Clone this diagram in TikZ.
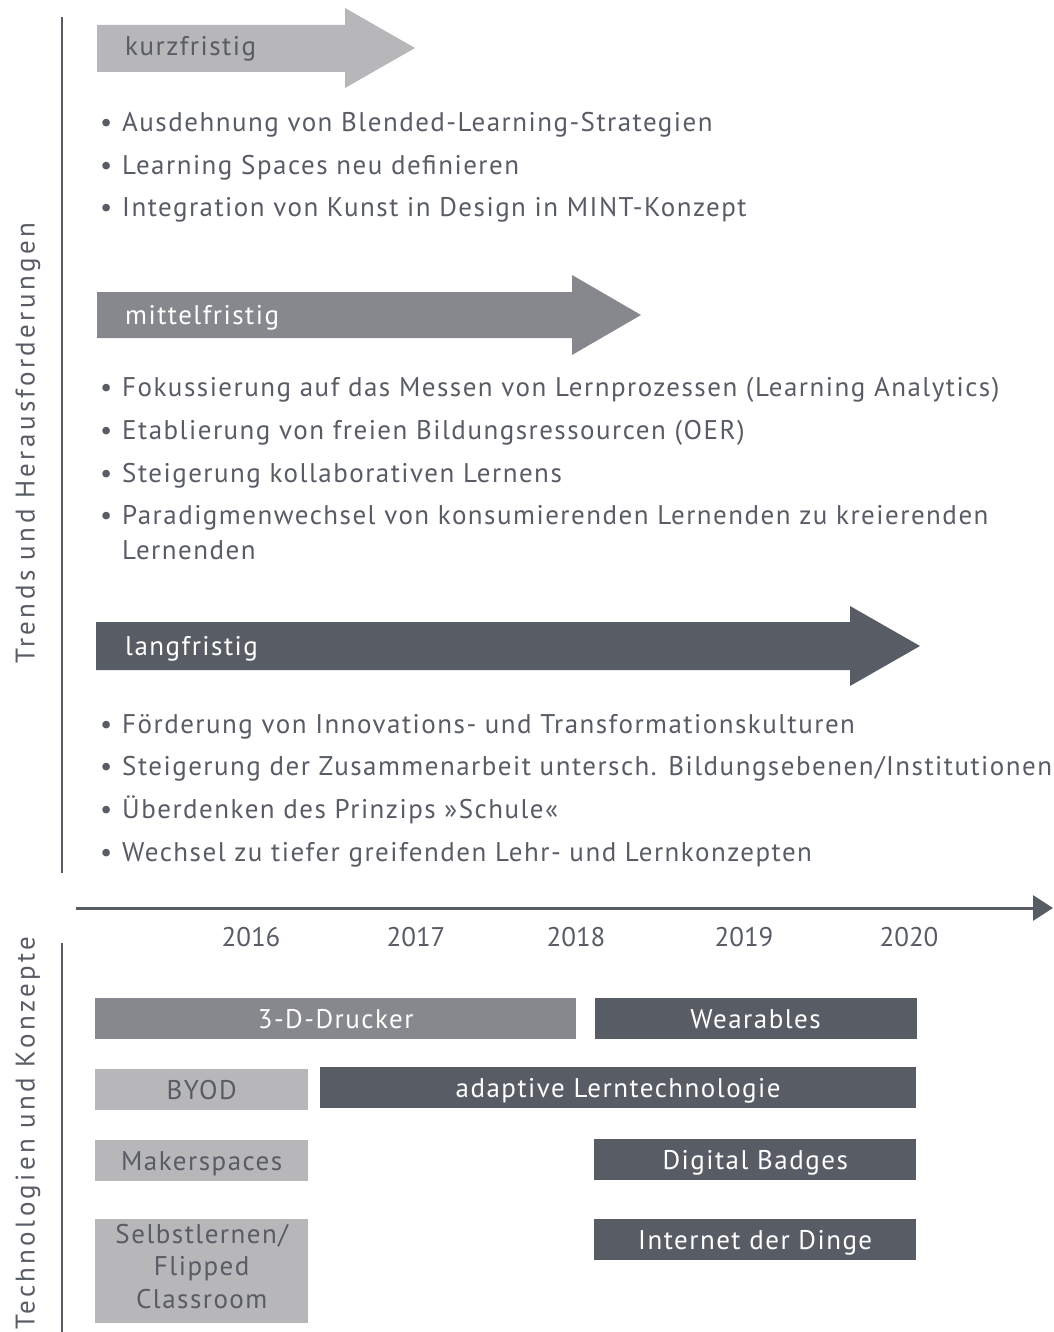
\documentclass[tikz,border=0pt]{standalone}
\usepackage{fontspec}
\setmainfont{PT Sans}
\usetikzlibrary{positioning, arrows.meta}
\definecolor{hell}{HTML}{B7B7BA}
\definecolor{mittel}{HTML}{86888D}
\definecolor{dunkel}{HTML}{585C64}

\begin{document}
\begin{tikzpicture}[x=1pt, y=-1pt,
    schrift/.style={font=\fontsize{27}{35}\selectfont\addfontfeatures{LetterSpace=5.5}, text=dunkel, inner sep=0pt},
    punkt/.style={schrift, anchor=base west, align=left},
    jahr/.style={schrift, font=\fontsize{27}{35}\selectfont, anchor=base},
    balken/.style={schrift, minimum height=41, text height=19pt, text depth=0pt, align=center},
    seite/.style={schrift, rotate=90, font=\fontsize{27}{35}\selectfont\addfontfeatures{LetterSpace=12.5}},
  ]
  \useasboundingbox (0,0) rectangle (1053,1332);

  % seitliche Achsen
  \draw[dunkel, line width=2.5] (62,17) -- (62,873);
  \draw[dunkel, line width=2.5] (62,943) -- (62,1332);
  \node[seite] (trends) at (28,443) {Trends und Herausforderungen};
  \node[seite] (techno) at (28,1133) {Technologien und Konzepte};

  % Pfeile
  \fill[hell] (97,25) -- (345,25) -- (345,8) -- (415,48) -- (345,88) -- (345,72) -- (97,72) -- cycle;
  \fill[mittel] (97,292) -- (572,292) -- (572,275) -- (641,315) -- (572,355) -- (572,338) -- (97,338) -- cycle;
  \fill[dunkel] (96,622) -- (850,622) -- (850,606) -- (920,646) -- (850,686) -- (850,670) -- (96,670) -- cycle;
  \node[punkt] (kurz) at (125,56) {kurzfristig};
  \node[punkt, text=white] (mittel) at (125,324) {mittelfristig};
  \node[punkt, text=white] (lang) at (125,655) {langfristig};

  % Aufzaehlungen
  \foreach \y/\t in {132/{Ausdehnung von Blended-Learning-Strategien},
                     175/{Learning Spaces neu definieren},
                     217/{Integration von Kunst in Design in MINT-Konzept},
                     396/{Fokussierung auf das Messen von Lernprozessen (Learning Analytics)},
                     439/{Etablierung von freien Bildungsressourcen (OER)},
                     482/{Steigerung kollaborativen Lernens},
                     733/{Förderung von Innovations- und Transformationskulturen},
                     775/{Steigerung der Zusammenarbeit untersch. Bildungsebenen/Institutionen},
                     818/{Überdenken des Prinzips »Schule«},
                     861/{Wechsel zu tiefer greifenden Lehr- und Lernkonzepten}}{
    \node[punkt] (b\y) at (100,\y) {\textbullet};
    \node[punkt] (t\y) at (122,\y) {\t};
  }
  \node[punkt] (b524) at (100,524) {\textbullet};
  \node[punkt] (t524) at (122,559) {Paradigmenwechsel von konsumierenden Lernenden zu kreierenden\\Lernenden};

  % Zeitachse
  \coordinate (start) at (76,908);
  \coordinate (ende) at (1053,908);
  \draw[dunkel, line width=3, -{Triangle[length=20pt, width=25pt]}] (start) -- (ende);
  \foreach \x/\j in {251/2016, 416/2017, 576/2018, 744/2019, 909/2020}
    \node[jahr] (j\j) at (\x,946) {\j};

  % Balken
  \node[balken, fill=mittel, text=white, minimum width=481, anchor=north west] (drucker) at (95,998) {3-D-Drucker};
  \node[balken, fill=dunkel, text=white, minimum width=322, right=18 of drucker] (wear) {Wearables};
  \node[balken, fill=hell, minimum width=213, anchor=north west] (byod) at (95,1069) {BYOD};
  \node[balken, fill=dunkel, text=white, minimum width=596, anchor=north west] (adaptiv) at (320,1067) {adaptive Lerntechnologie};
  \node[balken, fill=hell, minimum width=213, anchor=north west] (maker) at (95,1140) {Makerspaces};
  \node[balken, fill=dunkel, text=white, minimum width=322, anchor=north west] (badges) at (594,1139) {Digital Badges};
  \node[balken, fill=hell, minimum width=213, minimum height=104, text height={}, text depth=10pt, font=\fontsize{27}{32.5}\selectfont\addfontfeatures{LetterSpace=5.5}, anchor=north west] (selbst) at (95,1219) {Selbstlernen/\\Flipped\\Classroom};
  \node[balken, fill=dunkel, text=white, minimum width=322, anchor=north west] (dinge) at (594,1219) {Internet der Dinge};
\end{tikzpicture}
\end{document}
